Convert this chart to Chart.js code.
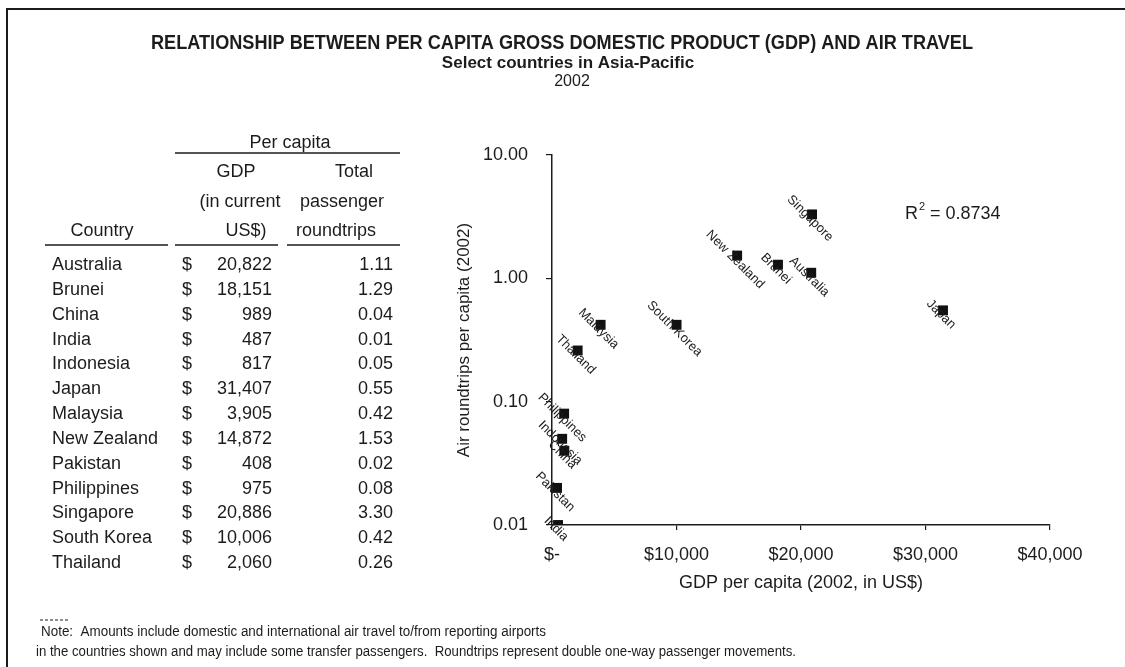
<!DOCTYPE html>
<html>
<head>
<meta charset="utf-8">
<script src="https://cdn.jsdelivr.net/npm/chart.js@4.4.1/dist/chart.umd.min.js"></script>
<style>
  html, body { margin: 0; padding: 0; background: #fff; }
  canvas { display: block; }
</style>
</head>
<body>
<canvas id="chart" width="1125" height="667"></canvas>
<script>
// Country data, 2002
const countries = ['Australia', 'Brunei', 'China', 'India', 'Indonesia', 'Japan', 'Malaysia',
  'New Zealand', 'Pakistan', 'Philippines', 'Singapore', 'South Korea', 'Thailand'];
const gdpPerCapita = [20822, 18151, 989, 487, 817, 31407, 3905, 14872, 408, 975, 20886, 10006, 2060];
const roundtripsPerCapita = [1.11, 1.29, 0.04, 0.01, 0.05, 0.55, 0.42, 1.53, 0.02, 0.08, 3.30, 0.42, 0.26];

// Axis ticks
const xTickValues = [0, 10000, 20000, 30000, 40000];
const xTickLabels = ['$-', '$10,000', '$20,000', '$30,000', '$40,000'];
const yTickValues = [0.01, 0.1, 1, 10];
const yTickLabels = ['0.01', '0.10', '1.00', '10.00'];

// Texts
const titleLines = [
  'RELATIONSHIP BETWEEN PER CAPITA GROSS DOMESTIC PRODUCT (GDP) AND AIR TRAVEL',
  'Select countries in Asia-Pacific',
  '2002'
];
const rSquared = '0.8734';
const noteLines = [
  'Note:  Amounts include domestic and international air travel to/from reporting airports',
  'in the countries shown and may include some transfer passengers.  Roundtrips represent double one-way passenger movements.'
];

const FONT = '"Liberation Sans", Arial, Helvetica, sans-serif';
const INK = '#1c1c1c';

const points = gdpPerCapita.map((g, i) => ({ x: g, y: roundtripsPerCapita[i] }));

// Draws the frame, headings, data table, notes, R² and rotated point labels
const pageText = {
  id: 'pageText',
  afterDraw(chart) {
    const ctx = chart.ctx;
    ctx.save();
    ctx.fillStyle = INK;
    ctx.strokeStyle = INK;

    // frame (top and left edges)
    ctx.lineWidth = 2;
    ctx.beginPath();
    ctx.moveTo(7, 667);
    ctx.lineTo(7, 9);
    ctx.lineTo(1125, 9);
    ctx.stroke();

    // headings (condensed to their column width)
    ctx.textAlign = 'center';
    ctx.textBaseline = 'middle';
    ctx.font = 'bold 20px ' + FONT;
    ctx.fillText(titleLines[0], 562, 43, 822);
    ctx.font = 'bold 17px ' + FONT;
    ctx.fillText(titleLines[1], 568, 63, 262);
    ctx.font = '16px ' + FONT;
    ctx.fillText(titleLines[2], 572, 82);

    // table header
    ctx.font = '18px ' + FONT;
    ctx.fillText('Per capita', 290, 143);
    ctx.fillText('GDP', 236, 172);
    ctx.fillText('Total', 354, 172);
    ctx.fillText('(in current', 240, 202);
    ctx.fillText('passenger', 342, 202);
    ctx.fillText('Country', 102, 231);
    ctx.fillText('US$)', 246, 231);
    ctx.fillText('roundtrips', 336, 231);

    ctx.lineWidth = 1.5;
    ctx.beginPath();
    ctx.moveTo(175, 153); ctx.lineTo(400, 153);
    ctx.moveTo(45, 245); ctx.lineTo(168, 245);
    ctx.moveTo(175, 245); ctx.lineTo(278, 245);
    ctx.moveTo(287, 245); ctx.lineTo(400, 245);
    ctx.stroke();

    // table rows
    const rowTop = 265, rowStep = 24.85;
    countries.forEach((name, i) => {
      const y = rowTop + i * rowStep;
      ctx.textAlign = 'left';
      ctx.fillText(name, 52, y);
      ctx.fillText('$', 182, y);
      ctx.textAlign = 'right';
      ctx.fillText(gdpPerCapita[i].toLocaleString('en-US'), 272, y);
      ctx.fillText(roundtripsPerCapita[i].toFixed(2), 393, y);
    });

    // R squared
    ctx.textAlign = 'left';
    ctx.font = '18px ' + FONT;
    ctx.fillText('R', 905, 214);
    const rW = ctx.measureText('R').width;
    ctx.font = '11px ' + FONT;
    ctx.fillText('2', 905 + rW + 1, 207);
    ctx.font = '18px ' + FONT;
    ctx.fillText(' = ' + rSquared, 905 + rW + 7, 214);

    // notes
    ctx.font = '14px ' + FONT;
    ctx.fillText(noteLines[0], 41, 632, 505);
    ctx.fillText(noteLines[1], 36, 652, 760);
    ctx.lineWidth = 1;
    ctx.setLineDash([3, 2]);
    ctx.beginPath();
    ctx.moveTo(40, 620); ctx.lineTo(68, 620);
    ctx.stroke();
    ctx.setLineDash([]);

    // point labels, rotated along the diagonal
    const meta = chart.getDatasetMeta(0);
    ctx.font = '13px ' + FONT;
    ctx.textAlign = 'center';
    ctx.textBaseline = 'middle';
    meta.data.forEach((pt, i) => {
      ctx.save();
      ctx.translate(pt.x - 2, pt.y + 4);
      ctx.rotate(Math.PI / 4);
      ctx.fillText(countries[i], 0, 0);
      ctx.restore();
    });

    ctx.restore();
  }
};

new Chart(document.getElementById('chart'), {
  type: 'scatter',
  data: {
    datasets: [{
      data: points,
      pointStyle: 'rect',
      pointRadius: 7,
      pointHoverRadius: 7,
      backgroundColor: '#111',
      borderColor: '#111',
      borderWidth: 0
    }]
  },
  options: {
    responsive: false,
    animation: false,
    devicePixelRatio: 1,
    layout: { padding: { left: 440, right: 75, top: 155, bottom: 62 } },
    plugins: {
      legend: { display: false },
      tooltip: { enabled: false },
      title: { display: false }
    },
    scales: {
      x: {
        type: 'linear',
        min: 0,
        max: 40000,
        afterBuildTicks: s => { s.ticks = xTickValues.map(v => ({ value: v })); },
        afterFit: s => { s.height = 80; },
        ticks: {
          callback: (v, i) => xTickLabels[i],
          font: { family: FONT, size: 18 },
          color: INK,
          padding: 14,
          maxRotation: 0,
          autoSkip: false
        },
        grid: { drawOnChartArea: false, drawTicks: true, tickLength: 5, color: INK, lineWidth: 1.2 },
        border: { display: true, color: INK, width: 1.5 },
        title: {
          display: true,
          text: 'GDP per capita (2002, in US$)',
          font: { family: FONT, size: 18 },
          color: INK,
          padding: { top: 0, bottom: 11 }
        }
      },
      y: {
        type: 'logarithmic',
        min: 0.01,
        max: 10,
        afterBuildTicks: s => { s.ticks = yTickValues.map(v => ({ value: v })); },
        afterFit: s => { s.width = 112; },
        ticks: {
          callback: (v, i) => yTickLabels[i],
          font: { family: FONT, size: 18 },
          color: INK,
          padding: 18,
          autoSkip: false
        },
        grid: { drawOnChartArea: false, drawTicks: true, tickLength: 6, color: INK, lineWidth: 1.2 },
        border: { display: true, color: INK, width: 1.5 },
        title: {
          display: true,
          text: 'Air roundtrips per capita (2002)',
          font: { family: FONT, size: 17 },
          color: INK,
          padding: { top: 14, bottom: 0 }
        }
      }
    }
  },
  plugins: [pageText]
});
</script>
</body>
</html>
